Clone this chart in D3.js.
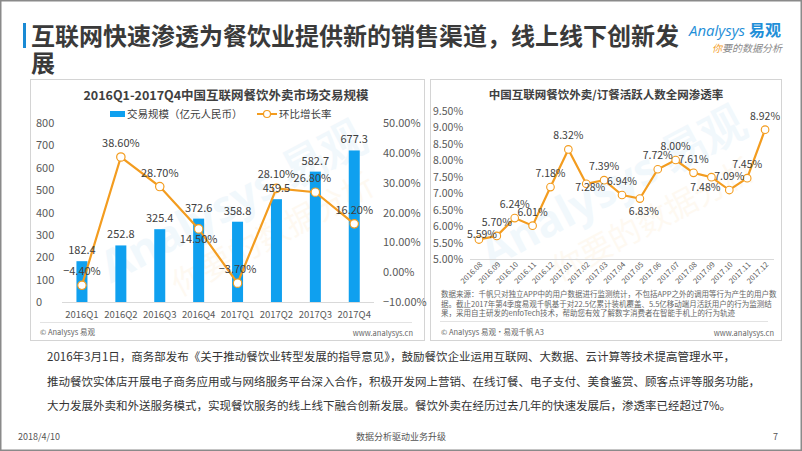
<!DOCTYPE html>
<html><head><meta charset="utf-8">
<script src="https://cdn.jsdelivr.net/npm/d3@7/dist/d3.min.js"></script>
<style>
body{margin:0;background:#fff;}
svg{display:block;font-family:"Noto Sans CJK SC","Noto Sans",sans-serif;}
</style></head>
<body><svg id="c" width="802" height="451"></svg>
<script>
// ---------- data ----------
const quarters = ["2016Q1","2016Q2","2016Q3","2016Q4","2017Q1","2017Q2","2017Q3","2017Q4"];
const gmv = [182.4, 252.8, 325.4, 372.6, 358.8, 459.5, 582.7, 677.3];
const qoq = [-4.4, 38.6, 28.7, 14.5, -3.7, 28.1, 26.8, 16.2];
const leftTicks = [0,100,200,300,400,500,600,700,800];
const rightTicks = [-10,0,10,20,30,40,50];

const months = ["2016.08","2016.09","2016.10","2016.11","2016.12","2017.01","2017.02","2017.03","2017.04","2017.05","2017.06","2017.07","2017.08","2017.09","2017.10","2017.11","2017.12"];
const penetration = [5.59, 5.70, 6.24, 6.01, 7.18, 8.32, 7.28, 7.39, 6.94, 6.83, 7.72, 8.00, 7.61, 7.48, 7.09, 7.45, 8.92];
const penTicks = [5.0,5.5,6.0,6.5,7.0,7.5,8.0,8.5,9.0,9.5];

// label placement (layout)
const qoqLabelPos = ["a","a","a","b","a","a","a","a"];
const penLabelPos = ["s","a","a","a","a","a","m","a","a","b","a","a","a","bl","a","a","a"];

const BLUE = "#0fa0ef", ORANGE = "#f39c1f", TXT = "#404040", AX = "#595959";

const svg = d3.select("#c");
svg.append("rect").attr("x",0).attr("y",0).attr("width",802).attr("height",451).attr("fill","#fff");
svg.append("rect").attr("x",0.75).attr("y",0.75).attr("width",800.5).attr("height",449.5)
  .attr("fill","none").attr("stroke","#8a8a8a").attr("stroke-width",1.5);

// ---------- header ----------
svg.append("rect").attr("x",23).attr("y",23).attr("width",3).attr("height",25).attr("fill","#1a8ad4");
svg.append("text").attr("x",31).attr("y",45).attr("font-size",24).attr("font-weight",700).attr("fill","#3a3a3a")
  .text("互联网快速渗透为餐饮业提供新的销售渠道，线上线下创新发");
svg.append("text").attr("x",31).attr("y",72).attr("font-size",24).attr("font-weight",700).attr("fill","#3a3a3a").text("展");
const logo = svg.append("text").attr("x",689).attr("y",36).attr("fill","#1f8fd8");
logo.append("tspan").attr("font-size",15).attr("font-style","italic").attr("font-family","'Open Sans',sans-serif").text("Analysys ");
logo.append("tspan").attr("font-size",16).attr("font-weight",700).text("易观");
const slog = svg.append("text").attr("x",712).attr("y",52).attr("font-size",10).attr("font-style","italic");
slog.append("tspan").attr("fill","#f39c1f").text("你");
slog.append("tspan").attr("fill","#8a8a8a").text("要的数据分析");

// ---------- panels ----------
[[30,79,394,261],[430,79,351,261]].forEach(p=>{
  svg.append("rect").attr("x",p[0]+0.5).attr("y",p[1]+0.5).attr("width",p[2]).attr("height",p[3])
    .attr("fill","#fff").attr("stroke","#d4d4d4").attr("stroke-width",1);
});

// watermark
function watermark(cx, cy){
  const g = svg.append("g").attr("transform",`translate(${cx},${cy}) rotate(-28)`).attr("opacity",0.055);
  g.append("text").attr("text-anchor","middle").attr("font-size",44).attr("font-weight",700).attr("fill","#1a8ad4")
    .attr("font-family","'Open Sans',sans-serif").text("Analysys 易观");
  g.append("text").attr("x",20).attr("y",44).attr("text-anchor","middle").attr("font-size",32).attr("fill","#f39c1f").text("你要的数据分析");
}
watermark(240,215);
watermark(620,200);

// ---------- left chart ----------
const L = svg.append("g");
L.append("text").attr("x",226).attr("y",100).attr("text-anchor","middle").attr("font-size",12.5).attr("font-weight",700).attr("fill",TXT)
  .text("2016Q1-2017Q4中国互联网餐饮外卖市场交易规模");
// legend
L.append("rect").attr("x",110).attr("y",111).attr("width",15).attr("height",6).attr("fill",BLUE);
L.append("text").attr("x",127).attr("y",118).attr("font-size",10.5).attr("fill",TXT).text("交易规模（亿元人民币）");
L.append("line").attr("x1",257).attr("x2",277).attr("y1",114).attr("y2",114).attr("stroke",ORANGE).attr("stroke-width",2);
L.append("circle").attr("cx",267).attr("cy",114).attr("r",3.5).attr("fill","#fff").attr("stroke",ORANGE).attr("stroke-width",1.2);
L.append("text").attr("x",279).attr("y",118).attr("font-size",10.5).attr("fill",TXT).text("环比增长率");

const xq = d3.scalePoint().domain(quarters).range([62.5,373.7]).padding(0.5);
const yl = d3.scaleLinear().domain([0,800]).range([302,123]);
const yr = d3.scaleLinear().domain([-10,50]).range([302,123]);
const barW = 11;

L.selectAll(".lt").data(leftTicks).join("text").attr("x",36).attr("y",d=>yl(d)+4)
  .attr("font-size",11).attr("fill",AX).text(d=>d);
L.selectAll(".rt").data(rightTicks).join("text").attr("x",383).attr("y",d=>yr(d)+4)
  .attr("font-size",11).attr("fill",AX).text(d=>d3.format(".2f")(d)+"%");
L.append("line").attr("x1",62).attr("x2",374).attr("y1",302.5).attr("y2",302.5).attr("stroke","#d9d9d9");
L.selectAll(".xl").data(quarters).join("text").attr("x",d=>xq(d)).attr("y",318).attr("text-anchor","middle")
  .attr("font-size",9.5).attr("fill",AX).text(d=>d);

L.selectAll(".bar").data(gmv).join("rect").attr("x",(d,i)=>xq(quarters[i])-barW/2).attr("width",barW)
  .attr("y",d=>yl(d)).attr("height",d=>yl(0)-yl(d)).attr("fill",BLUE);

const lineL = d3.line().x((d,i)=>xq(quarters[i])).y(d=>yr(d));
L.append("path").datum(qoq).attr("d",lineL).attr("fill","none").attr("stroke",ORANGE).attr("stroke-width",2.2);
L.selectAll(".pt").data(qoq).join("circle").attr("cx",(d,i)=>xq(quarters[i])).attr("cy",d=>yr(d)).attr("r",4.2)
  .attr("fill","#fff").attr("stroke",ORANGE).attr("stroke-width",1.2);
L.selectAll(".bl").data(gmv).join("text").attr("x",(d,i)=>xq(quarters[i])).attr("y",d=>yl(d)-7)
  .attr("text-anchor","middle").attr("font-size",11).attr("fill",TXT).text(d=>d3.format(".1f")(d));
L.selectAll(".pl").data(qoq).join("text").attr("x",(d,i)=>xq(quarters[i]) + (i===6?-3:0))
  .attr("y",(d,i)=>qoqLabelPos[i]==="b" ? yr(d)+14 : yr(d)-10)
  .attr("text-anchor","middle").attr("font-size",11).attr("fill",TXT).text(d=>d3.format(".2f")(d)+"%");

L.append("line").attr("x1",40).attr("x2",412).attr("y1",322.5).attr("y2",322.5).attr("stroke","#e3e3e3");
L.append("text").attr("x",40).attr("y",335).attr("font-size",7.5).attr("fill","#666").text("© Analysys 易观");
L.append("text").attr("x",413).attr("y",336).attr("text-anchor","end").attr("font-size",7.5).attr("fill","#666").text("www.analysys.cn");

// ---------- right chart ----------
const R = svg.append("g");
R.append("text").attr("x",606).attr("y",99).attr("text-anchor","middle").attr("font-size",11.5).attr("font-weight",700).attr("fill",TXT)
  .text("中国互联网餐饮外卖/订餐活跃人数全网渗透率");
const xm = d3.scalePoint().domain(months).range([470,774]).padding(0.5);
const yp = d3.scaleLinear().domain([5,9.5]).range([259,110.5]);
R.selectAll(".pt2").data(penTicks).join("text").attr("x",433).attr("y",d=>yp(d)+4)
  .attr("font-size",10.5).attr("fill",AX).text(d=>d3.format(".2f")(d)+"%");
R.append("line").attr("x1",470).attr("x2",774).attr("y1",259.5).attr("y2",259.5).attr("stroke","#d9d9d9");
R.selectAll(".ml").data(months).join("text")
  .attr("transform",d=>`translate(${xm(d)+4},${265}) rotate(-45)`)
  .attr("text-anchor","end").attr("font-size",7.5).attr("fill",AX).text(d=>d);

const lineR = d3.line().x((d,i)=>xm(months[i])).y(d=>yp(d));
R.append("path").datum(penetration).attr("d",lineR).attr("fill","none").attr("stroke",ORANGE).attr("stroke-width",2.2);
R.selectAll(".pc").data(penetration).join("circle").attr("cx",(d,i)=>xm(months[i])).attr("cy",d=>yp(d)).attr("r",3.8)
  .attr("fill","#fff").attr("stroke",ORANGE).attr("stroke-width",1.1);
const off = {a:[0,-10], b:[4,16], bl:[-6,14], m:[4,7], s:[3,-2]};
R.selectAll(".pl2").data(penetration).join("text")
  .attr("x",(d,i)=>xm(months[i])+off[penLabelPos[i]][0]).attr("y",(d,i)=>yp(d)+off[penLabelPos[i]][1])
  .attr("text-anchor","middle").attr("font-size",10.5).attr("fill",TXT).text(d=>d3.format(".2f")(d)+"%");

const note = ["数据来源：千帆只对独立APP中的用户数据进行监测统计，不包括APP之外的调用等行为产生的用户数",
  "据。截止2017年第4季度易观千帆基于对22.5亿累计装机覆盖、5.5亿移动端月活跃用户的行为监测结",
  "果，采用自主研发的enfoTech技术，帮助您有效了解数字消费者在智能手机上的行为轨迹"];
R.selectAll(".nt").data(note).join("text").attr("x",441).attr("y",(d,i)=>297+i*9.5)
  .attr("font-size",7.5).attr("fill","#666").text(d=>d);
R.append("line").attr("x1",440).attr("x2",768).attr("y1",321.5).attr("y2",321.5).attr("stroke","#e3e3e3");
R.append("text").attr("x",441).attr("y",335).attr("font-size",7.5).attr("fill","#666").text("© Analysys 易观·易观千帆 A3");
R.append("text").attr("x",774).attr("y",336).attr("text-anchor","end").attr("font-size",7.5).attr("fill","#666").text("www.analysys.cn");

// ---------- body text ----------
const para = ["2016年3月1日，商务部发布《关于推动餐饮业转型发展的指导意见》，鼓励餐饮企业运用互联网、大数据、云计算等技术提高管理水平，",
  "推动餐饮实体店开展电子商务应用或与网络服务平台深入合作，积极开发网上营销、在线订餐、电子支付、美食鉴赏、顾客点评等服务功能，",
  "大力发展外卖和外送服务模式，实现餐饮服务的线上线下融合创新发展。餐饮外卖在经历过去几年的快速发展后，渗透率已经超过7%。"];
svg.selectAll(".pa").data(para).join("text").attr("x",47).attr("y",(d,i)=>361+i*24.5)
  .attr("font-size",11.5).attr("fill","#333").text(d=>d);

svg.append("text").attr("x",18).attr("y",440).attr("font-size",9).attr("fill","#555").text("2018/4/10");
svg.append("text").attr("x",401).attr("y",440).attr("text-anchor","middle").attr("font-size",9).attr("fill","#555").text("数据分析驱动业务升级");
svg.append("text").attr("x",778).attr("y",440).attr("text-anchor","end").attr("font-size",9).attr("fill","#555").text("7");
</script></body></html>
